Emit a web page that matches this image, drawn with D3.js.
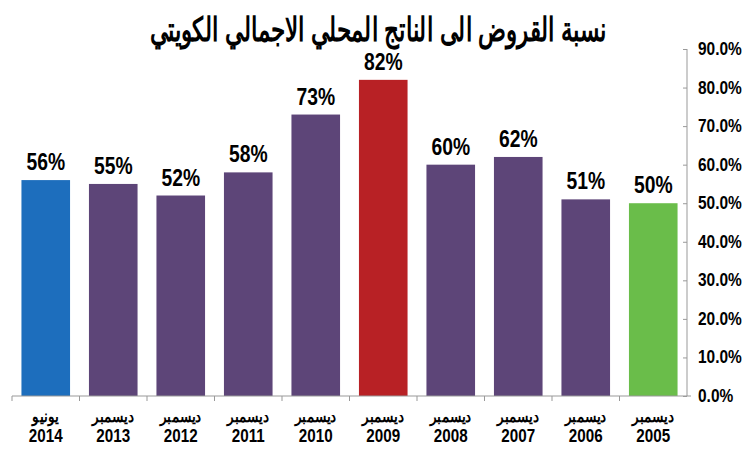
<!DOCTYPE html>
<html>
<head>
<meta charset="utf-8">
<script src="https://cdn.jsdelivr.net/npm/d3@7"></script>
<style>
  body { margin: 0; background: #fff; }
  svg { display: block; font-family: "Liberation Sans", Arial, sans-serif; }
</style>
</head>
<body>
<svg id="svg" width="748" height="450"></svg>
<script>
let title = "نسبة القروض الى الناتج المحلي الاجمالي الكويتي";
let months = ["يونيو", "ديسمبر", "ديسمبر", "ديسمبر", "ديسمبر", "ديسمبر", "ديسمبر", "ديسمبر", "ديسمبر", "ديسمبر"];
let years = ["2014", "2013", "2012", "2011", "2010", "2009", "2008", "2007", "2006", "2005"];
let values = [56, 55, 52, 58, 73, 82, 60, 62, 51, 50];
let colors = ["#1d6ebd", "#5d4578", "#5d4578", "#5d4578", "#5d4578", "#b82125", "#5d4578", "#5d4578", "#5d4578", "#6abd4a"];
let yTicks = [0, 10, 20, 30, 40, 50, 60, 70, 80, 90];

let svg = d3.select("svg");
let margin = {top: 49, right: 61, bottom: 54, left: 12};
let width = 748 - margin.left - margin.right;
let height = 450 - margin.top - margin.bottom;

let g = svg.append("g").attr("transform", "translate(" + margin.left + "," + margin.top + ")");

let x = d3.scaleBand().domain(years).range([0, width]).paddingInner(0.28).paddingOuter(0.14);
let y = d3.scaleLinear().domain([0, 90]).range([height, 0]);

// the original uses a condensed font, so texts are squeezed with scaleX
svg.append("text")
   .attr("transform", "translate(378,41) scale(0.7,1)")
   .attr("text-anchor", "middle")
   .attr("direction", "rtl")
   .style("font-size", "33px")
   .style("font-weight", "bold")
   .text(title);

// bars
g.selectAll("rect.bar")
 .data(values)
 .enter().append("rect")
   .attr("class", "bar")
   .attr("x", (d, i) => x(years[i]))
   .attr("y", d => y(d))
   .attr("width", x.bandwidth())
   .attr("height", d => height - y(d))
   .attr("fill", (d, i) => colors[i]);

// value labels
g.selectAll("text.val")
 .data(values)
 .enter().append("text")
   .attr("class", "val")
   .attr("transform", (d, i) => "translate(" + (x(years[i]) + x.bandwidth() / 2) + "," + (y(d) - 10) + ") scale(0.84,1)")
   .attr("text-anchor", "middle")
   .style("font-size", "23px")
   .style("font-weight", "bold")
   .text(d => d + "%");

// right axis
let yAxis = g.append("g")
  .attr("transform", "translate(" + width + ",0)")
  .call(d3.axisLeft(y).tickValues(yTicks).tickSize(4).tickFormat(""));
yAxis.select(".domain").attr("stroke", "#999").attr("d", "M0,0V" + height);
yAxis.selectAll(".tick line").attr("stroke", "#999");

g.selectAll("text.ytick")
 .data(yTicks)
 .enter().append("text")
   .attr("class", "ytick")
   .attr("transform", d => "translate(" + (width + 11) + "," + (y(d) + 6) + ") scale(0.86,1)")
   .style("font-size", "18px")
   .style("font-weight", "bold")
   .text(d => d.toFixed(1) + "%");

// bottom axis
g.append("line")
 .attr("x1", 0).attr("x2", width + 4)
 .attr("y1", height).attr("y2", height)
 .attr("stroke", "#999");

let step = x.step();
let bounds = years.map((d, i) => x(d) - step * x.paddingInner() / 2);
g.selectAll("line.xtick")
 .data(bounds)
 .enter().append("line")
   .attr("class", "xtick")
   .attr("x1", d => d).attr("x2", d => d)
   .attr("y1", height).attr("y2", height + 5)
   .attr("stroke", "#999");

// category labels
let labels = g.selectAll("g.xlab")
  .data(years)
  .enter().append("g")
    .attr("class", "xlab")
    .attr("transform", d => "translate(" + (x(d) + x.bandwidth() / 2) + "," + height + ")");

labels.append("text")
  .attr("transform", "translate(0,26) scale(0.85,1)")
  .attr("text-anchor", "middle")
  .attr("direction", "rtl")
  .style("font-size", "16px")
  .style("font-weight", "bold")
  .text((d, i) => months[i]);

labels.append("text")
  .attr("transform", "translate(0,46) scale(0.8,1)")
  .attr("text-anchor", "middle")
  .style("font-size", "19px")
  .style("font-weight", "bold")
  .text(d => d);
</script>
</body>
</html>
